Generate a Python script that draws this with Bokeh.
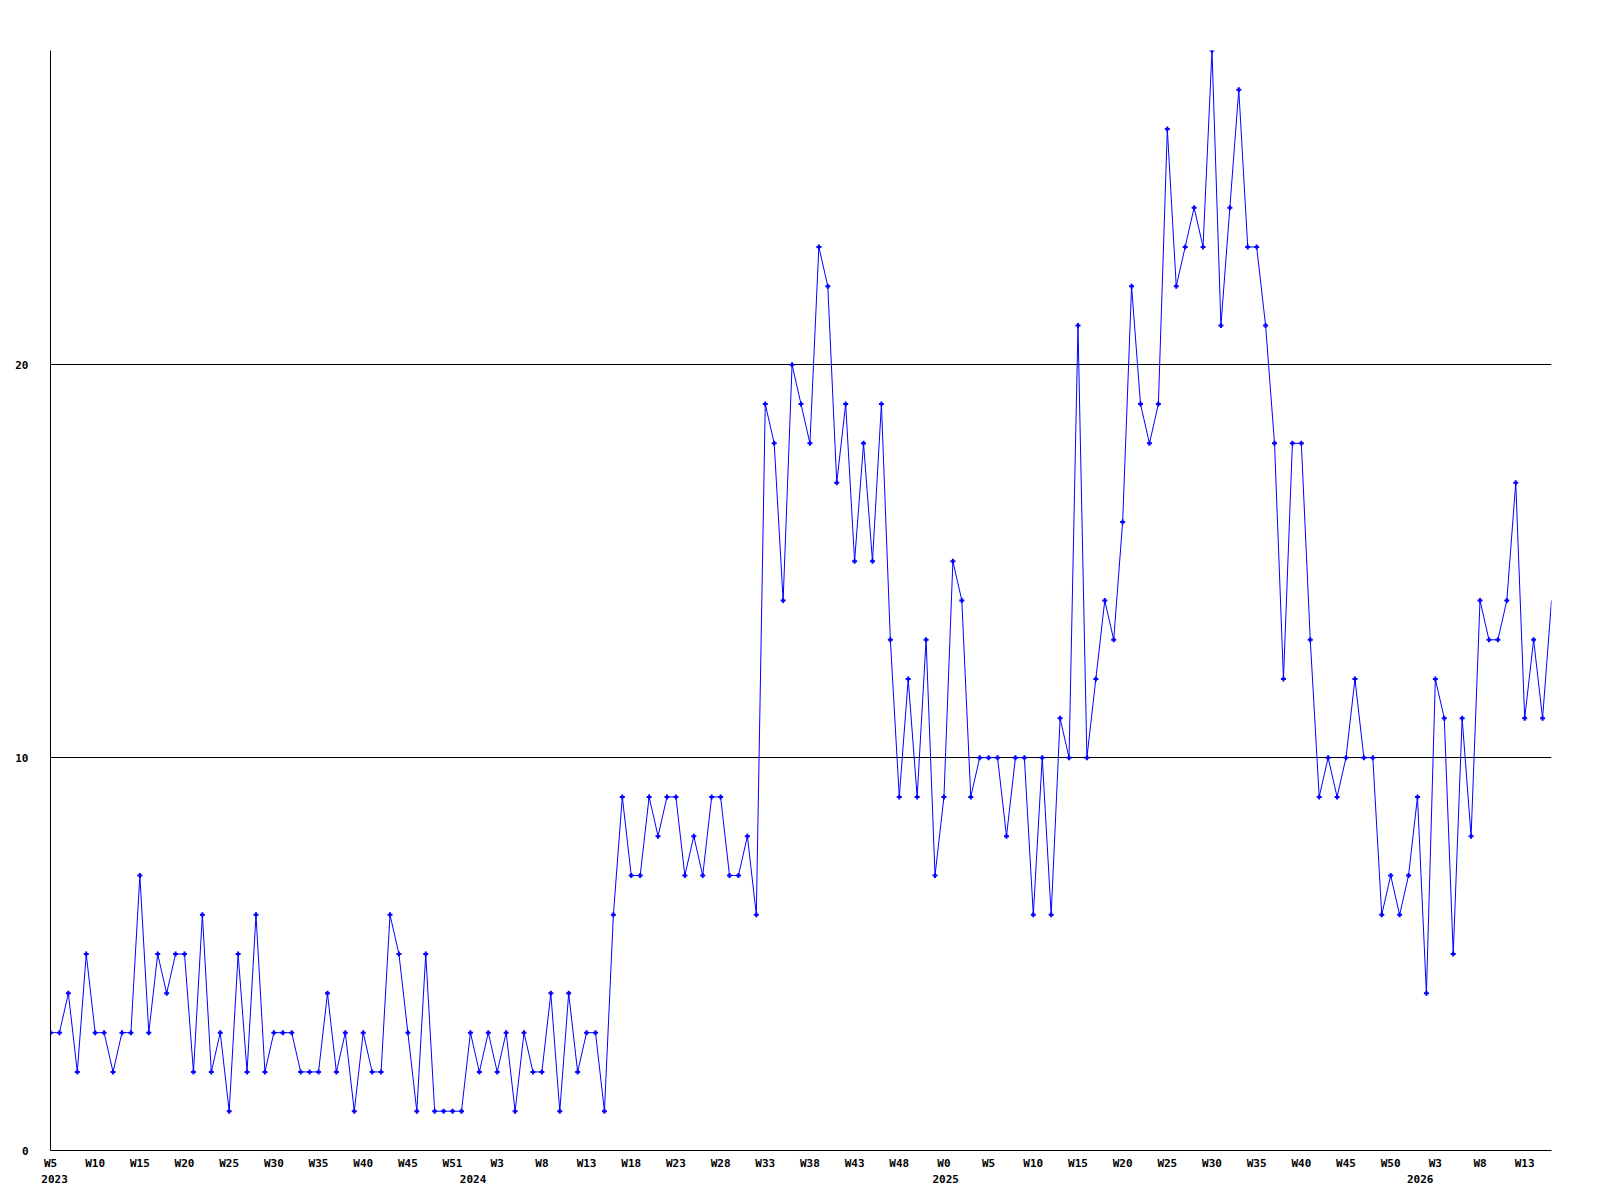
from bokeh.plotting import figure
from bokeh.models import Range1d, FixedTicker, LinearAxis, ColumnDataSource
from bokeh.embed import file_html
from bokeh.resources import INLINE

# ---- data (one value per week, first week = W5 2023) ----
VALUES = [
    3, 3, 4, 2, 5, 3, 3, 2, 3, 3,
    7, 3, 5, 4, 5, 5, 2, 6, 2, 3,
    1, 5, 2, 6, 2, 3, 3, 3, 2, 2,
    2, 4, 2, 3, 1, 3, 2, 2, 6, 5,
    3, 1, 5, 1, 1, 1, 1, 3, 2, 3,
    2, 3, 1, 3, 2, 2, 4, 1, 4, 2,
    3, 3, 1, 6, 9, 7, 7, 9, 8, 9,
    9, 7, 8, 7, 9, 9, 7, 7, 8, 6,
    19, 18, 14, 20, 19, 18, 23, 22, 17, 19,
    15, 18, 15, 19, 13, 9, 12, 9, 13, 7,
    9, 15, 14, 9, 10, 10, 10, 8, 10, 10,
    6, 10, 6, 11, 10, 21, 10, 12, 14, 13,
    16, 22, 19, 18, 19, 26, 22, 23, 24, 23,
    28, 21, 24, 27, 23, 23, 21, 18, 12, 18,
    18, 13, 9, 10, 9, 10, 12, 10, 10, 6,
    7, 6, 7, 9, 4, 12, 11, 5, 11, 8,
    14, 13, 13, 14, 17, 11, 13, 11, 14,
]
WEEK_LABELS = [
    "W5", "W10", "W15", "W20", "W25", "W30", "W35", "W40", "W45", "W51",
    "W3", "W8", "W13", "W18", "W23", "W28", "W33", "W38", "W43", "W48",
    "W0", "W5", "W10", "W15", "W20", "W25", "W30", "W35", "W40", "W45", "W50",
    "W3", "W8", "W13",
]
LABEL_STEP = 5
YEAR_LABELS = ["2023", "2024", "2025", "2026"]
YEAR_AT = [0.46, 47.3, 100.2, 153.3]   # week index where each year label sits
Y_TICKS = [0, 10, 20]

FONT = "DejaVu Sans Mono"
BLUE = "#0000ff"

weeks = list(range(len(VALUES)))
src = ColumnDataSource(dict(week=weeks, value=VALUES))
mk = ColumnDataSource(dict(week=weeks[:-1], value=VALUES[:-1]))

p = figure(frame_width=1501, frame_height=1100, output_backend="svg",
           toolbar_location=None,
           x_range=Range1d(0, len(VALUES) - 1), y_range=Range1d(0, max(VALUES)),
           min_border_left=50, min_border_top=50, min_border_right=40,
           min_border_bottom=10,
           background_fill_color="white", border_fill_color="white",
           outline_line_color=None)

p.xgrid.visible = False
p.ygrid.ticker = FixedTicker(ticks=Y_TICKS)
p.ygrid.grid_line_color = "black"
p.ygrid.grid_line_width = 1

p.line("week", "value", source=src, color=BLUE, line_width=1)
p.scatter("week", "value", source=mk, marker="cross", size=5, line_width=2,
          color=BLUE)


def style(ax, standoff):
    ax.major_tick_line_color = None
    ax.minor_tick_line_color = None
    ax.major_tick_out = 0
    ax.major_tick_in = 0
    ax.major_label_text_font = FONT
    ax.major_label_text_font_style = "bold"
    ax.major_label_text_font_size = "11px"
    ax.major_label_text_color = "black"
    ax.major_label_standoff = standoff


xa = p.xaxis[0]
wticks = list(range(0, len(VALUES), LABEL_STEP))
xa.ticker = FixedTicker(ticks=wticks)
xa.major_label_overrides = {t: lab for t, lab in zip(wticks, WEEK_LABELS)}
xa.axis_line_color = "black"
style(xa, 6)

ya2 = LinearAxis(ticker=FixedTicker(ticks=YEAR_AT),
                 major_label_overrides={t: lab for t, lab in zip(YEAR_AT, YEAR_LABELS)})
ya2.axis_line_color = None
style(ya2, 2)
p.add_layout(ya2, "below")

ya = p.yaxis[0]
ya.ticker = FixedTicker(ticks=Y_TICKS)
ya.axis_line_color = "black"
style(ya, 22)
ya.major_label_text_align = "left"

open("out.html", "w").write(file_html(p, INLINE))
